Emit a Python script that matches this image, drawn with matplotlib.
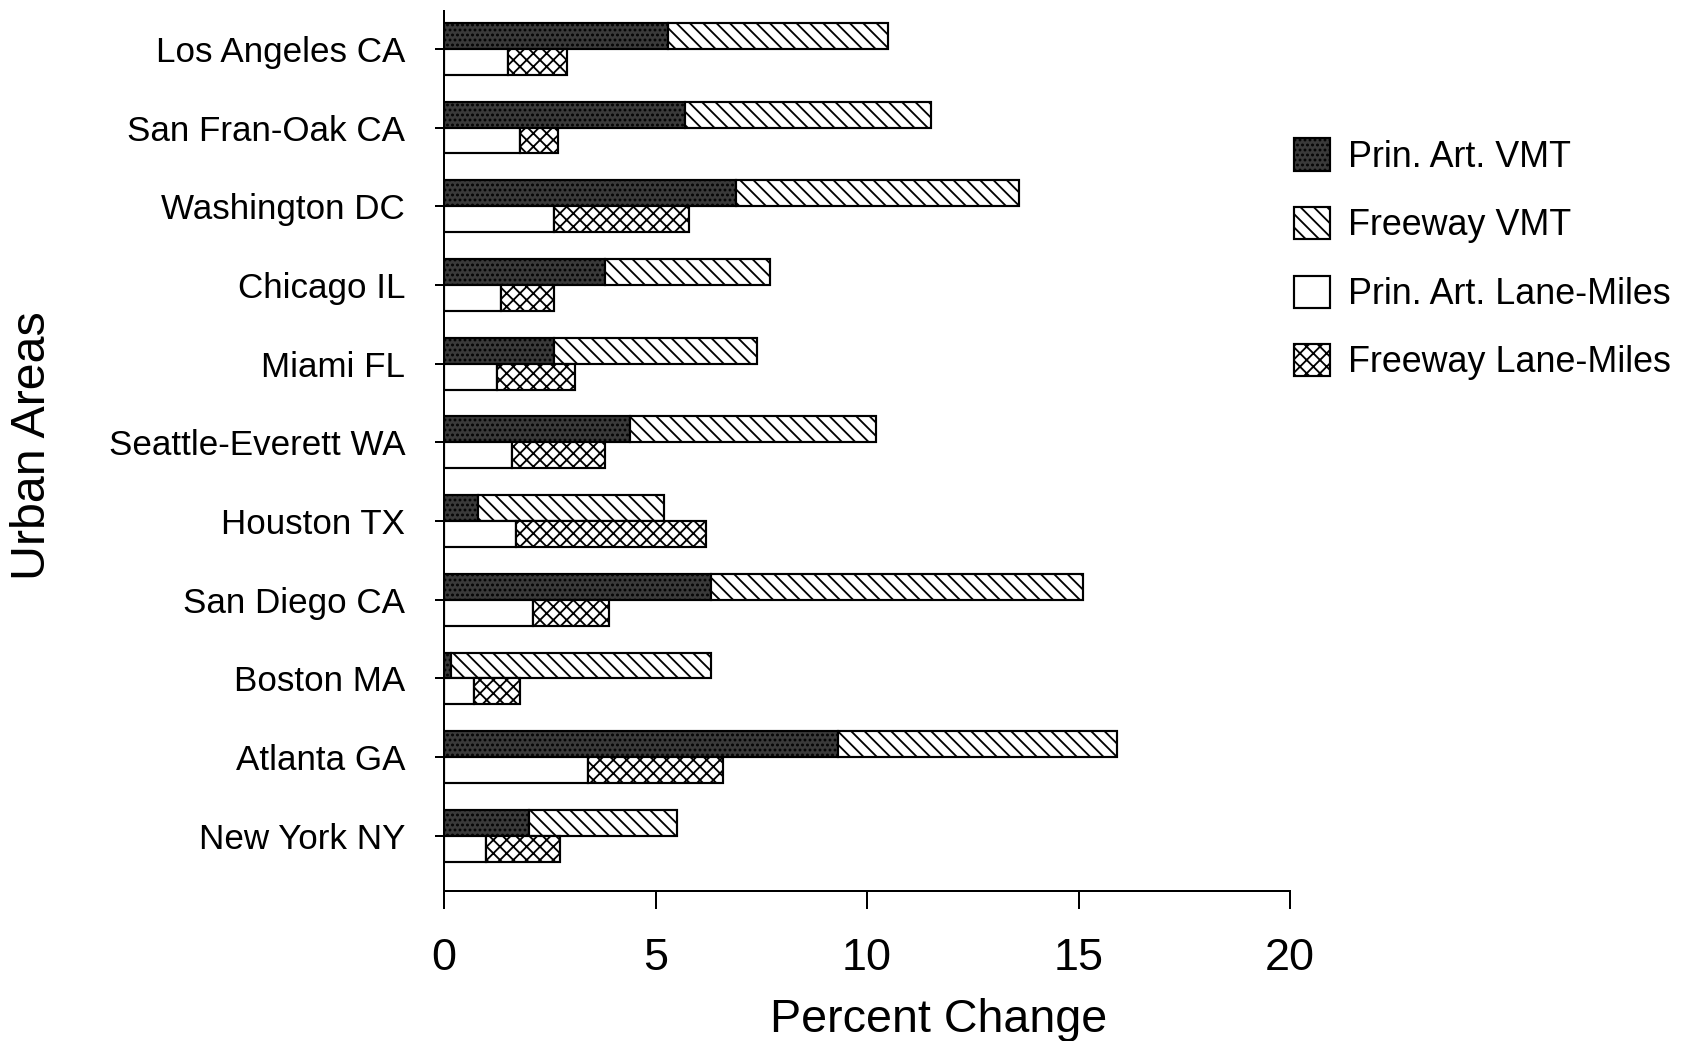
import matplotlib
matplotlib.use("Agg")
from matplotlib import pyplot as plt
from matplotlib.patches import Patch
import numpy as np

areas = ["Los Angeles CA", "San Fran-Oak CA", "Washington DC", "Chicago IL",
         "Miami FL", "Seattle-Everett WA", "Houston TX", "San Diego CA",
         "Boston MA", "Atlanta GA", "New York NY"]

# percent change, stacked segments
prin_art_vmt = [5.3, 5.7, 6.9, 3.8, 2.6, 4.4, 0.8, 6.3, 0.15, 9.3, 2.0]
freeway_vmt = [5.2, 5.8, 6.7, 3.9, 4.8, 5.8, 4.4, 8.8, 6.15, 6.6, 3.5]
prin_art_lane = [1.5, 1.8, 2.6, 1.35, 1.25, 1.6, 1.7, 2.1, 0.7, 3.4, 1.0]
freeway_lane = [1.4, 0.9, 3.2, 1.25, 1.85, 2.2, 4.5, 1.8, 1.1, 3.2, 1.75]

xticks = [0, 5, 10, 15, 20]

plt.rcParams['font.family'] = ['Liberation Sans', 'DejaVu Sans']
plt.rcParams['hatch.linewidth'] = 1.1

narrow = ['Liberation Sans Narrow', 'Liberation Sans']

fig = plt.figure(figsize=(1687 / 120, 1041 / 120), dpi=120)
ax = fig.add_axes([0.2633, 0.1441, 0.5014, 0.8453])

y = np.arange(len(areas))
h = 0.33
lw = 1.3

dark = dict(facecolor='#3a3a3a', hatch='....', edgecolor='black', linewidth=lw)
diag = dict(facecolor='white', hatch='\\' * 3, edgecolor='black', linewidth=lw)
plain = dict(facecolor='white', edgecolor='black', linewidth=lw)
cross = dict(facecolor='white', hatch='xxx', edgecolor='black', linewidth=lw)

ax.barh(y - h, prin_art_vmt, height=h, align='edge', **dark)
ax.barh(y - h, freeway_vmt, left=prin_art_vmt, height=h, align='edge', **diag)
ax.barh(y, prin_art_lane, height=h, align='edge', **plain)
ax.barh(y, freeway_lane, left=prin_art_lane, height=h, align='edge', **cross)

ax.set_xlim(0, 20)
ax.set_ylim(10.70, -0.48)
ax.set_yticks(y)
ax.set_yticklabels(areas, fontsize=21)
ax.set_xticks(xticks)
ax.set_xticklabels([str(t) for t in xticks], fontsize=27, family=narrow)

ax.tick_params(axis='y', length=5.4, width=1.2, pad=18)
ax.tick_params(axis='x', length=11, width=1.2, pad=17)

for side in ['top', 'right']:
    ax.spines[side].set_visible(False)
for side in ['left', 'bottom']:
    ax.spines[side].set_linewidth(1.2)

ax.set_xlabel('Percent Change', fontsize=28, family=narrow, va='center')
ax.xaxis.set_label_coords(0.584, -0.147)
ax.set_ylabel('Urban Areas', fontsize=29, va='center')
ax.yaxis.set_label_coords(-0.487, 0.506)

handles = [Patch(**dark), Patch(**diag), Patch(**plain), Patch(**cross)]
labels = ['Prin. Art. VMT', 'Freeway VMT', 'Prin. Art. Lane-Miles', 'Freeway Lane-Miles']
fig.legend(handles, labels, loc='upper left', bbox_to_anchor=(0.767, 0.867),
           frameon=False, fontsize=21.5, handlelength=1.0, handleheight=1.0,
           handletextpad=0.52, labelspacing=0.9, borderpad=0, borderaxespad=0)

fig.savefig('out.png', dpi=120)
